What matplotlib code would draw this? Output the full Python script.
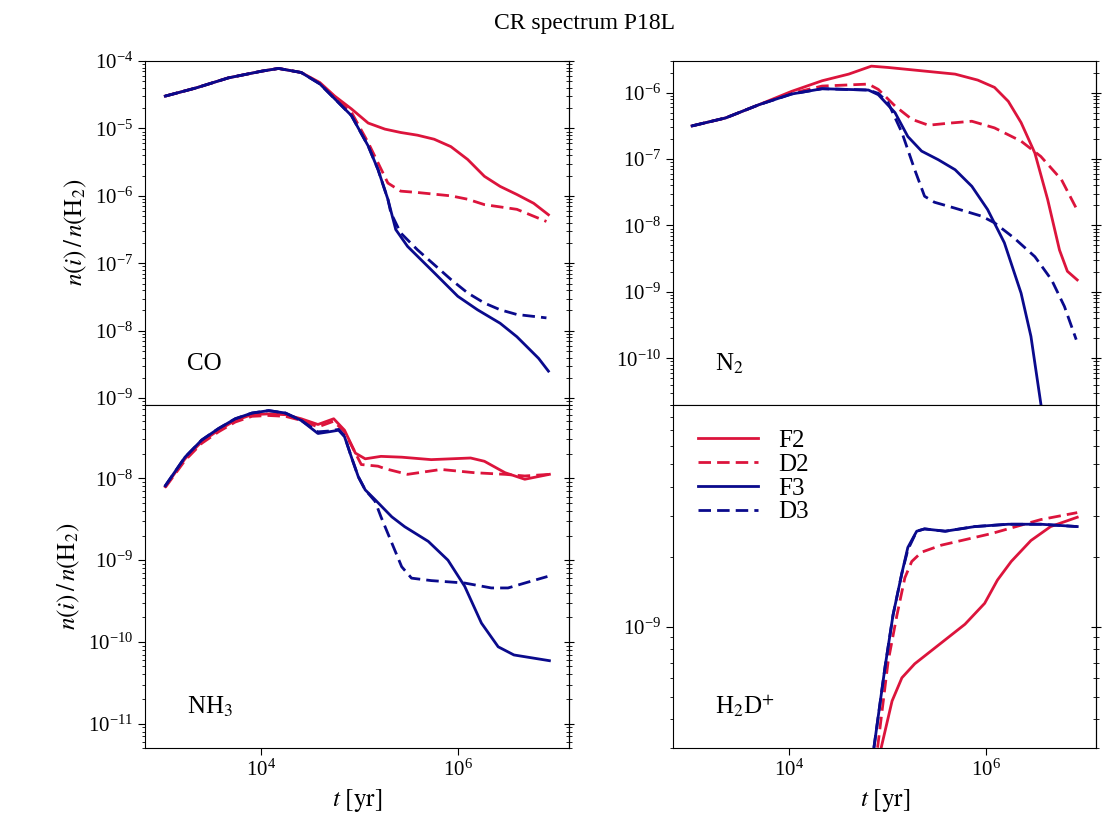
import matplotlib
matplotlib.use("Agg")
import matplotlib.pyplot as plt
import numpy as np

plt.rcParams['font.family'] = ['Liberation Serif', 'DejaVu Serif']
plt.rcParams['mathtext.fontset'] = 'stix'

RED = 'crimson'
BLUE = '#0a0a8c'

# --- data: log10(t / yr) and log10(abundance) ---
# CO
co_f2_t = [3.03, 3.34, 3.67, 4.01, 4.18, 4.41, 4.60, 4.75, 4.92, 5.09, 5.26, 5.42, 5.59, 5.76, 5.93, 6.10, 6.27, 6.43, 6.60, 6.77, 6.92]
co_f2_y = [-4.52, -4.40, -4.25, -4.15, -4.11, -4.17, -4.32, -4.52, -4.71, -4.92, -5.01, -5.06, -5.10, -5.16, -5.27, -5.46, -5.71, -5.86, -5.98, -6.11, -6.28]
co_d2_t = [3.03, 3.34, 3.67, 4.01, 4.18, 4.41, 4.60, 4.75, 4.92, 5.09, 5.19, 5.29, 5.42, 5.59, 5.93, 6.10, 6.27, 6.60, 6.90]
co_d2_y = [-4.52, -4.40, -4.25, -4.15, -4.11, -4.17, -4.33, -4.55, -4.76, -5.21, -5.51, -5.81, -5.93, -5.95, -6.00, -6.05, -6.13, -6.20, -6.38]
co_f3_t = [3.03, 3.34, 3.67, 4.01, 4.18, 4.41, 4.60, 4.75, 4.92, 5.09, 5.19, 5.29, 5.37, 5.49, 5.76, 6.00, 6.20, 6.43, 6.60, 6.82, 6.92]
co_f3_y = [-4.52, -4.40, -4.25, -4.15, -4.11, -4.17, -4.34, -4.56, -4.81, -5.26, -5.61, -6.05, -6.50, -6.75, -7.14, -7.49, -7.69, -7.89, -8.09, -8.41, -8.60]
co_d3_t = [3.03, 3.34, 3.67, 4.01, 4.18, 4.41, 4.60, 4.75, 4.92, 5.09, 5.19, 5.29, 5.32, 5.42, 5.59, 5.76, 5.93, 6.10, 6.27, 6.43, 6.60, 6.90]
co_d3_y = [-4.52, -4.40, -4.25, -4.15, -4.11, -4.17, -4.34, -4.56, -4.81, -5.26, -5.61, -6.05, -6.25, -6.55, -6.80, -7.02, -7.24, -7.44, -7.59, -7.69, -7.76, -7.81]

# N2
n2_f2_t = [3.02, 3.36, 3.70, 4.03, 4.34, 4.61, 4.84, 5.01, 5.35, 5.69, 5.92, 6.09, 6.23, 6.36, 6.50, 6.63, 6.75, 6.83, 6.93]
n2_f2_y = [-6.50, -6.38, -6.18, -5.98, -5.82, -5.72, -5.60, -5.62, -5.67, -5.72, -5.81, -5.92, -6.13, -6.45, -6.91, -7.61, -8.37, -8.69, -8.82]
n2_d2_t = [3.02, 3.36, 3.70, 4.03, 4.34, 4.81, 4.91, 5.08, 5.25, 5.42, 5.62, 5.86, 6.09, 6.36, 6.56, 6.77, 6.92]
n2_d2_y = [-6.50, -6.38, -6.18, -6.01, -5.90, -5.87, -5.95, -6.20, -6.40, -6.49, -6.46, -6.43, -6.53, -6.73, -6.96, -7.31, -7.74]
n2_f3_t = [3.02, 3.36, 3.70, 4.03, 4.34, 4.81, 4.91, 5.08, 5.21, 5.35, 5.52, 5.69, 5.86, 6.02, 6.19, 6.36, 6.46, 6.56, 6.66]
n2_f3_y = [-6.50, -6.38, -6.18, -6.02, -5.94, -5.96, -6.03, -6.30, -6.66, -6.88, -7.01, -7.16, -7.41, -7.76, -8.26, -9.02, -9.67, -10.68, -11.70]
n2_d3_t = [3.02, 3.36, 3.70, 4.03, 4.34, 4.81, 4.91, 5.01, 5.15, 5.28, 5.38, 5.48, 5.69, 5.96, 6.09, 6.29, 6.50, 6.67, 6.80, 6.92]
n2_d3_y = [-6.50, -6.38, -6.18, -6.02, -5.94, -5.96, -6.01, -6.15, -6.60, -7.16, -7.56, -7.65, -7.74, -7.86, -7.96, -8.19, -8.47, -8.82, -9.22, -9.72]

# NH3
nh3_f2_t = [3.03, 3.23, 3.40, 3.57, 3.74, 3.91, 4.08, 4.25, 4.41, 4.58, 4.74, 4.85, 4.96, 5.06, 5.22, 5.43, 5.73, 6.13, 6.27, 6.48, 6.68, 6.93]
nh3_f2_y = [-8.10, -7.76, -7.55, -7.41, -7.29, -7.22, -7.21, -7.22, -7.27, -7.34, -7.27, -7.41, -7.69, -7.76, -7.73, -7.74, -7.77, -7.75, -7.79, -7.93, -8.01, -7.95]
nh3_d2_t = [3.03, 3.23, 3.40, 3.57, 3.74, 3.91, 4.08, 4.25, 4.41, 4.58, 4.74, 4.85, 5.02, 5.19, 5.26, 5.49, 5.83, 6.17, 6.48, 6.68, 6.93]
nh3_d2_y = [-8.11, -7.78, -7.57, -7.43, -7.31, -7.24, -7.23, -7.24, -7.29, -7.37, -7.30, -7.43, -7.83, -7.85, -7.88, -7.95, -7.89, -7.93, -7.95, -7.97, -7.95]
nh3_f3_t = [3.03, 3.23, 3.40, 3.57, 3.74, 3.91, 4.08, 4.25, 4.41, 4.58, 4.69, 4.79, 4.85, 4.92, 4.99, 5.06, 5.16, 5.33, 5.46, 5.70, 5.90, 6.07, 6.24, 6.41, 6.57, 6.93]
nh3_f3_y = [-8.09, -7.74, -7.53, -7.39, -7.27, -7.20, -7.17, -7.20, -7.29, -7.45, -7.43, -7.41, -7.49, -7.74, -7.98, -8.14, -8.26, -8.47, -8.59, -8.77, -9.00, -9.32, -9.77, -10.06, -10.16, -10.23]
nh3_d3_t = [3.03, 3.23, 3.40, 3.57, 3.74, 3.91, 4.08, 4.25, 4.41, 4.58, 4.69, 4.79, 4.85, 4.92, 4.99, 5.06, 5.16, 5.22, 5.33, 5.43, 5.53, 5.73, 6.07, 6.34, 6.51, 6.68, 6.91]
nh3_d3_y = [-8.09, -7.74, -7.53, -7.39, -7.27, -7.20, -7.17, -7.20, -7.29, -7.43, -7.42, -7.40, -7.48, -7.74, -7.98, -8.14, -8.28, -8.47, -8.79, -9.08, -9.22, -9.25, -9.28, -9.34, -9.34, -9.28, -9.20]

# H2D+
h2d_f2_t = [4.91, 4.94, 5.05, 5.15, 5.28, 5.55, 5.79, 5.99, 6.12, 6.26, 6.46, 6.66, 6.93]
h2d_f2_y = [-9.62, -9.52, -9.32, -9.22, -9.16, -9.07, -8.99, -8.90, -8.80, -8.72, -8.63, -8.57, -8.53]
h2d_d2_t = [4.88, 5.01, 5.10, 5.18, 5.25, 5.35, 5.55, 6.06, 6.56, 6.93]
h2d_d2_y = [-9.60, -9.15, -8.95, -8.79, -8.72, -8.68, -8.65, -8.60, -8.54, -8.51]
h2d_f3_t = [4.84, 4.98, 5.06, 5.15, 5.21, 5.30, 5.38, 5.59, 5.89, 6.23, 6.56, 6.93]
h2d_f3_y = [-9.60, -9.17, -8.95, -8.77, -8.66, -8.59, -8.58, -8.59, -8.57, -8.56, -8.56, -8.57]
h2d_d3_t = [4.84, 4.98, 5.06, 5.15, 5.21, 5.30, 5.38, 5.59, 5.89, 6.23, 6.56, 6.93]
h2d_d3_y = [-9.60, -9.17, -8.95, -8.77, -8.67, -8.59, -8.58, -8.59, -8.57, -8.56, -8.56, -8.57]

panels = [
    ('CO', (8e-10, 1e-4), [(co_f2_t, co_f2_y), (co_d2_t, co_d2_y), (co_f3_t, co_f3_y), (co_d3_t, co_d3_y)]),
    (r'N$_2$', (2e-11, 3e-6), [(n2_f2_t, n2_f2_y), (n2_d2_t, n2_d2_y), (n2_f3_t, n2_f3_y), (n2_d3_t, n2_d3_y)]),
    (r'NH$_3$', (5e-12, 8e-8), [(nh3_f2_t, nh3_f2_y), (nh3_d2_t, nh3_d2_y), (nh3_f3_t, nh3_f3_y), (nh3_d3_t, nh3_d3_y)]),
    (r'H$_2$D$^{+}$', (3e-10, 9e-9), [(h2d_f2_t, h2d_f2_y), (h2d_d2_t, h2d_d2_y), (h2d_f3_t, h2d_f3_y), (h2d_d3_t, h2d_d3_y)]),
]
labels = ['F2', 'D2', 'F3', 'D3']
styles = [(RED, '-'), (RED, '--'), (BLUE, '-'), (BLUE, '--')]

fig, axs = plt.subplots(2, 2, figsize=(11.2, 8.36), dpi=100, sharex=True)
fig.subplots_adjust(left=0.1295, right=0.979, top=0.927, bottom=0.105, wspace=0.246, hspace=0.0)

for ax, (name, ylim, series) in zip(axs.flat, panels):
    for (tl, yl), lab, (c, ls) in zip(series, labels, styles):
        line, = ax.plot(10**np.array(tl), 10**np.array(yl), color=c, ls=ls, lw=2, label=lab)
        if ls == '--':
            line.set_dashes((4.5, 2.2))
    ax.set_xscale('log')
    ax.set_yscale('log')
    ax.set_ylim(*ylim)
    ax.text(0.10, 0.10, name, transform=ax.transAxes, fontsize=18, va='baseline')
    ax.tick_params(which='both', labelsize=15)
    ax.tick_params(which='major', length=5)
    ax.tick_params(which='minor', length=2.5)
    sec = ax.secondary_yaxis('right')
    sec.tick_params(which='both', direction='inout', labelright=False)
    sec.tick_params(which='major', length=7)
    sec.tick_params(which='minor', length=4)

for ax in axs.flat:
    ax.set_xticks([1e4, 1e6])
    ax.xaxis.set_minor_locator(matplotlib.ticker.NullLocator())
for ax in axs[0]:
    ax.tick_params(axis='x', which='both', bottom=False)
for ax in axs[1]:
    ax.set_xlabel(r'$t\ [\mathrm{yr}]$', fontsize=18)
for ax in axs[:, 0]:
    ax.set_ylabel(r'$n(i)\,/\,n(\mathrm{H}_2)$', fontsize=18)

axs[1, 1].legend(loc='upper left', frameon=False, fontsize=18, handlelength=2.4,
                 labelspacing=0.05, borderaxespad=0.6)

fig.suptitle('CR spectrum P18L', fontsize=17, x=0.522, y=0.985)

fig.savefig('out.png', dpi=100)
